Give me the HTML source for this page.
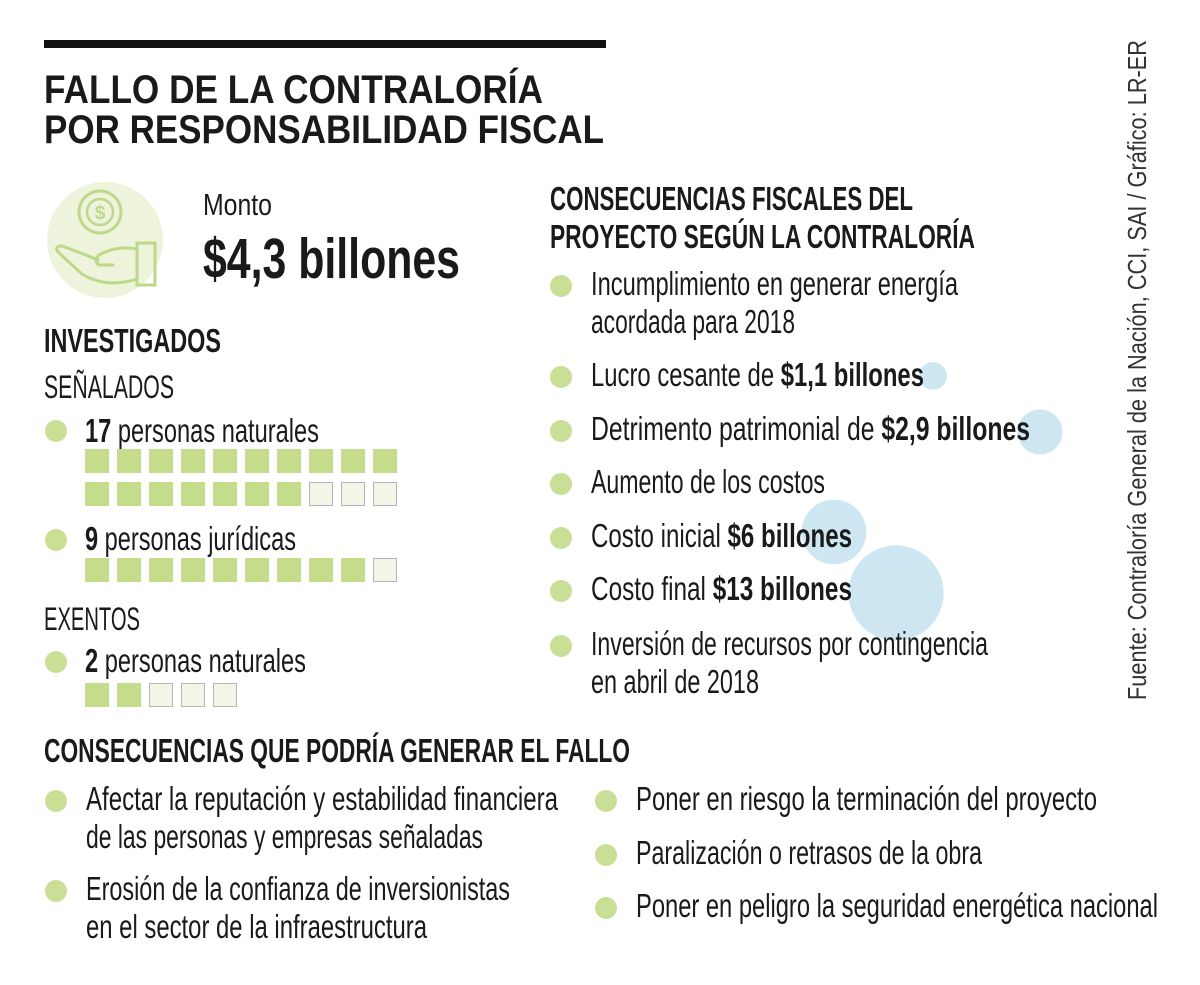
<!DOCTYPE html>
<html><head><meta charset="utf-8"><style>
html,body{margin:0;padding:0;background:#fff;width:1200px;height:985px;overflow:hidden}
svg text{font-family:"Liberation Sans Narrow","Liberation Sans",sans-serif;fill:#1a1a1a}
.b{font-weight:bold}
</style></head><body>
<svg id="g" width="1200" height="985" viewBox="0 0 1200 985">
<rect x="44" y="40" width="562" height="8" fill="#111"/>
<text x="44" y="103" font-size="40" class="b" textLength="499" lengthAdjust="spacingAndGlyphs">FALLO DE LA CONTRALORÍA</text>
<text x="44" y="143" font-size="40" class="b" textLength="560" lengthAdjust="spacingAndGlyphs">POR RESPONSABILIDAD FISCAL</text>
<g>
<circle cx="105" cy="240" r="58" fill="#eef3dc"/>
<circle cx="100" cy="212" r="21" fill="none" stroke="#bcd98a" stroke-width="3"/>
<circle cx="100" cy="212" r="13" fill="none" stroke="#bcd98a" stroke-width="2.5"/>
<text x="100" y="219" font-size="19" text-anchor="middle" style="fill:#bcd98a;font-weight:bold">$</text>
<path d="M137 243 h18 v42 h-18 z" fill="none" stroke="#bcd98a" stroke-width="3"/>
<path d="M137 249 q-20 -4 -38 6 q-6 6 0 10 h14 M137 279 q-30 10 -55 -5 l-24 -22 q-4 -6 4 -6 q22 8 36 14" fill="none" stroke="#bcd98a" stroke-width="3" stroke-linecap="round"/>
</g>
<text x="203" y="215" font-size="31" textLength="69" lengthAdjust="spacingAndGlyphs">Monto</text>
<text x="203" y="278" font-size="57" class="b" textLength="257" lengthAdjust="spacingAndGlyphs">$4,3 billones</text>
<text x="44" y="352" font-size="33" class="b" textLength="177" lengthAdjust="spacingAndGlyphs">INVESTIGADOS</text>
<text x="44" y="398" font-size="32" textLength="130" lengthAdjust="spacingAndGlyphs">SEÑALADOS</text>
<text x="85" y="442" font-size="33" textLength="234" lengthAdjust="spacingAndGlyphs"><tspan class="b">17</tspan> personas naturales</text>
<text x="85" y="550" font-size="33" textLength="211" lengthAdjust="spacingAndGlyphs"><tspan class="b">9</tspan> personas jurídicas</text>
<text x="44" y="630" font-size="32" textLength="96" lengthAdjust="spacingAndGlyphs">EXENTOS</text>
<text x="85" y="672" font-size="33" textLength="221" lengthAdjust="spacingAndGlyphs"><tspan class="b">2</tspan> personas naturales</text>
<g id="bubbles"></g>
<g id="squares"></g>
<g id="bullets"></g>
<text x="550" y="210" font-size="33" class="b" textLength="363" lengthAdjust="spacingAndGlyphs">CONSECUENCIAS FISCALES DEL</text>
<text x="550" y="248" font-size="33" class="b" textLength="425" lengthAdjust="spacingAndGlyphs">PROYECTO SEGÚN LA CONTRALORÍA</text>
<text x="591" y="295" font-size="33" textLength="367" lengthAdjust="spacingAndGlyphs">Incumplimiento en generar energía</text>
<text x="591" y="333" font-size="33" textLength="204" lengthAdjust="spacingAndGlyphs">acordada para 2018</text>
<text x="591" y="386" font-size="33" textLength="333" lengthAdjust="spacingAndGlyphs">Lucro cesante de <tspan class="b">$1,1 billones</tspan></text>
<text x="591" y="440" font-size="33" textLength="439" lengthAdjust="spacingAndGlyphs">Detrimento patrimonial de <tspan class="b">$2,9 billones</tspan></text>
<text x="591" y="493" font-size="33" textLength="234" lengthAdjust="spacingAndGlyphs">Aumento de los costos</text>
<text x="591" y="547" font-size="33" textLength="261" lengthAdjust="spacingAndGlyphs">Costo inicial <tspan class="b">$6 billones</tspan></text>
<text x="591" y="600" font-size="33" textLength="261" lengthAdjust="spacingAndGlyphs">Costo final <tspan class="b">$13 billones</tspan></text>
<text x="591" y="655" font-size="33" textLength="397" lengthAdjust="spacingAndGlyphs">Inversión de recursos por contingencia</text>
<text x="591" y="693" font-size="33" textLength="168" lengthAdjust="spacingAndGlyphs">en abril de 2018</text>
<text x="44" y="762" font-size="33" class="b" textLength="586" lengthAdjust="spacingAndGlyphs">CONSECUENCIAS QUE PODRÍA GENERAR EL FALLO</text>
<text x="86" y="810" font-size="33" textLength="472" lengthAdjust="spacingAndGlyphs">Afectar la reputación y estabilidad financiera</text>
<text x="86" y="848" font-size="33" textLength="397" lengthAdjust="spacingAndGlyphs">de las personas y empresas señaladas</text>
<text x="86" y="900" font-size="33" textLength="424" lengthAdjust="spacingAndGlyphs">Erosión de la confianza de inversionistas</text>
<text x="86" y="938" font-size="33" textLength="341" lengthAdjust="spacingAndGlyphs">en el sector de la infraestructura</text>
<text x="636" y="810" font-size="33" textLength="461" lengthAdjust="spacingAndGlyphs">Poner en riesgo la terminación del proyecto</text>
<text x="636" y="864" font-size="33" textLength="346" lengthAdjust="spacingAndGlyphs">Paralización o retrasos de la obra</text>
<text x="636" y="917" font-size="33" textLength="522" lengthAdjust="spacingAndGlyphs">Poner en peligro la seguridad energética nacional</text>
<text transform="translate(1146,700) rotate(-90)" font-size="26" textLength="660" lengthAdjust="spacingAndGlyphs" style="fill:#333">Fuente: Contraloría General de la Nación, CCI, SAI / Gráfico: LR-ER</text>
</svg>
<script>
// bubble data (billions)
const bubbleLabels = ['Lucro cesante','Detrimento patrimonial','Costo inicial','Costo final'];
const bubbleValues = [1.1, 2.9, 6, 13];
// square data
const squareGroups = ['naturales-senalados','juridicas','naturales-exentos'];
const squareCounts = [17, 9, 2];
const squareTotals = [20, 10, 5];

const NS='http://www.w3.org/2000/svg';
const bubbleAnchors=[[933,376],[1040,432],[834,532],[896,593]];
const rScale=v=>13.2*Math.sqrt(v);
const bg=document.getElementById('bubbles');
bubbleValues.forEach((v,i)=>{
  const c=document.createElementNS(NS,'circle');
  c.setAttribute('cx',bubbleAnchors[i][0]);c.setAttribute('cy',bubbleAnchors[i][1]);
  c.setAttribute('r',rScale(v));c.setAttribute('fill','#cde6f2');
  
  
  bg.appendChild(c);
});
const rowTops=[449,558,683];
const sg=document.getElementById('squares');
squareCounts.forEach((n,g)=>{
  for(let k=0;k<squareTotals[g];k++){
    const col=k%10,row=Math.floor(k/10);
    const r=document.createElementNS(NS,'rect');
    const filled=k<n;
    r.setAttribute('x',85+col*32+(filled?0:0.5));r.setAttribute('y',rowTops[g]+row*33+(filled?0:0.5));
    r.setAttribute('width',filled?24:23);r.setAttribute('height',filled?24:23);
    r.setAttribute('fill',filled?'#c5dc8a':'#f1f6e6');
    if(!filled){r.setAttribute('stroke','#b5b5b5');r.setAttribute('stroke-width','1');}
    
    
    sg.appendChild(r);
  }
});
const bulletPts=[[56,431],[56,540],[56,662],[561,286],[561,377],[561,431],[561,484],[561,538],[561,591],[561,646],[56,801],[56,891],[606,801],[606,855],[606,908]];
const bl=document.getElementById('bullets');
bulletPts.forEach(p=>{
  const c=document.createElementNS(NS,'circle');
  c.setAttribute('cx',p[0]);c.setAttribute('cy',p[1]);c.setAttribute('r',11);c.setAttribute('fill','#c9df95');
  
  
  bl.appendChild(c);
});
</script>
</body></html>
